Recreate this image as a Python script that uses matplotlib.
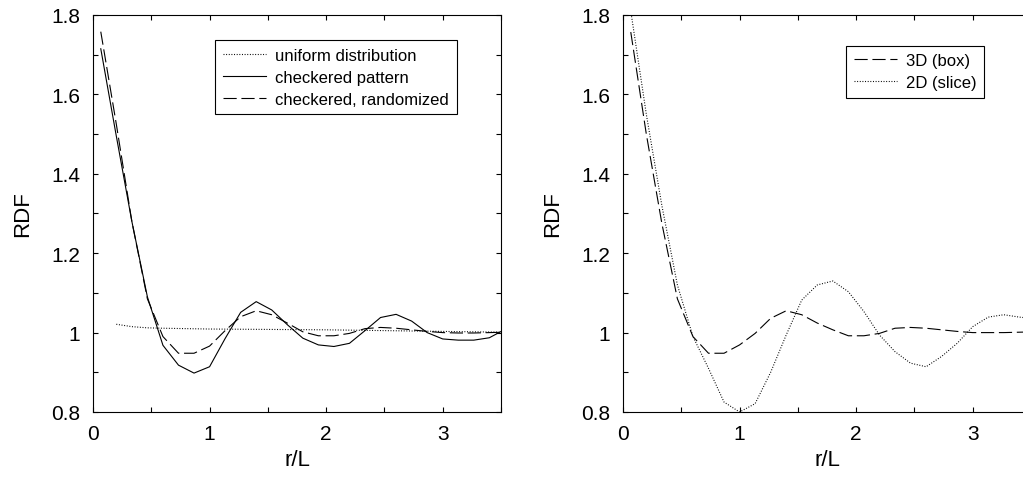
import matplotlib
matplotlib.use("Agg")
import matplotlib.pyplot as plt
from matplotlib.ticker import MultipleLocator, FuncFormatter
import numpy as np

plt.rcParams['font.family'] = ['Liberation Sans', 'DejaVu Sans']
plt.rcParams['lines.scale_dashes'] = False

# sample positions r/L (same grid for all curves)
r = np.arange(27) * (2.0 / 15) + 1.0 / 15

# left panel
checkered = [1.715, 1.495, 1.28, 1.09, 0.968, 0.918, 0.898, 0.914, 0.985,
             1.051, 1.078, 1.057, 1.02, 0.986, 0.969, 0.965, 0.973, 1.005,
             1.038, 1.046, 1.029, 1.0, 0.984, 0.981, 0.981, 0.987, 1.008]
randomized = [1.758, 1.525, 1.28, 1.085, 0.99, 0.948, 0.948, 0.966, 1.005,
              1.04, 1.055, 1.045, 1.024, 1.002, 0.992, 0.992, 0.998, 1.01,
              1.013, 1.011, 1.007, 1.003, 1.0, 0.999, 0.999, 1.0, 1.001]
r_uniform = [0.2, 0.333, 0.467, 0.6, 1.0, 1.5, 2.0, 2.5, 3.0, 3.533]
uniform = [1.021, 1.015, 1.012, 1.011, 1.009, 1.008, 1.007, 1.005, 1.003, 1.001]

# right panel
box3d = [1.757, 1.50, 1.275, 1.085, 0.99, 0.948, 0.948, 0.969, 0.998,
         1.036, 1.055, 1.045, 1.024, 1.007, 0.992, 0.992, 0.998, 1.011,
         1.013, 1.011, 1.007, 1.003, 1.0, 1.0, 1.0, 1.001, 1.002]
slice2d = [1.81, 1.55, 1.32, 1.12, 0.99, 0.91, 0.825, 0.80, 0.821,
           0.90, 0.994, 1.082, 1.12, 1.13, 1.103, 1.053, 0.994, 0.952,
           0.923, 0.914, 0.94, 0.973, 1.015, 1.039, 1.045, 1.039, 1.035]

DASH = (0, (9.5, 3.4))
DOT = (0, (0.7, 1.2))

fig = plt.figure(figsize=(10.23, 4.81), dpi=100)
ax1 = fig.add_axes([93 / 1023, 68 / 481, 408 / 1023, 397 / 481])
ax2 = fig.add_axes([623 / 1023, 68 / 481, 408 / 1023, 397 / 481])

ax1.plot(r_uniform, uniform, color='black', lw=0.8, ls=DOT, label='uniform distribution')
ax1.plot(r, checkered, color='black', lw=0.8, label='checkered pattern')
ax1.plot(r, randomized, color='black', lw=0.8, ls=DASH, label='checkered, randomized')

ax2.plot(r, box3d, color='black', lw=0.8, ls=DASH, label='3D (box)')
ax2.plot(r, slice2d, color='black', lw=0.8, ls=DOT, label='2D (slice)')

fmt = FuncFormatter(lambda v, p: '%g' % round(v, 2))
for ax in (ax1, ax2):
    ax.set_xlim(0, 3.5)
    ax.set_ylim(0.8, 1.8)
    ax.xaxis.set_major_locator(MultipleLocator(1))
    ax.xaxis.set_minor_locator(MultipleLocator(0.5))
    ax.yaxis.set_major_locator(MultipleLocator(0.2))
    ax.yaxis.set_minor_locator(MultipleLocator(0.1))
    ax.yaxis.set_major_formatter(fmt)
    ax.tick_params(which='both', direction='in', top=True, right=True,
                   length=3.5, width=0.8, labelsize=15)
    ax.tick_params(axis='x', pad=9)
    ax.tick_params(axis='y', pad=9)
    for s in ax.spines.values():
        s.set_linewidth(0.8)
    ax.set_xlabel('r/L', fontsize=16, labelpad=4)
    ax.set_ylabel('RDF', fontsize=16, labelpad=13)

leg_kw = dict(fontsize=12, fancybox=False, framealpha=1, edgecolor='black',
              handlelength=2.6, handletextpad=0.55, labelspacing=0.42,
              borderpad=0.45, borderaxespad=0, loc='upper right')
l1 = ax1.legend(bbox_to_anchor=(0.891, 0.937), **leg_kw)
l2 = ax2.legend(bbox_to_anchor=(0.886, 0.923), **leg_kw)
for l in (l1, l2):
    l.get_frame().set_linewidth(0.8)

fig.savefig('out.png', dpi=100)
